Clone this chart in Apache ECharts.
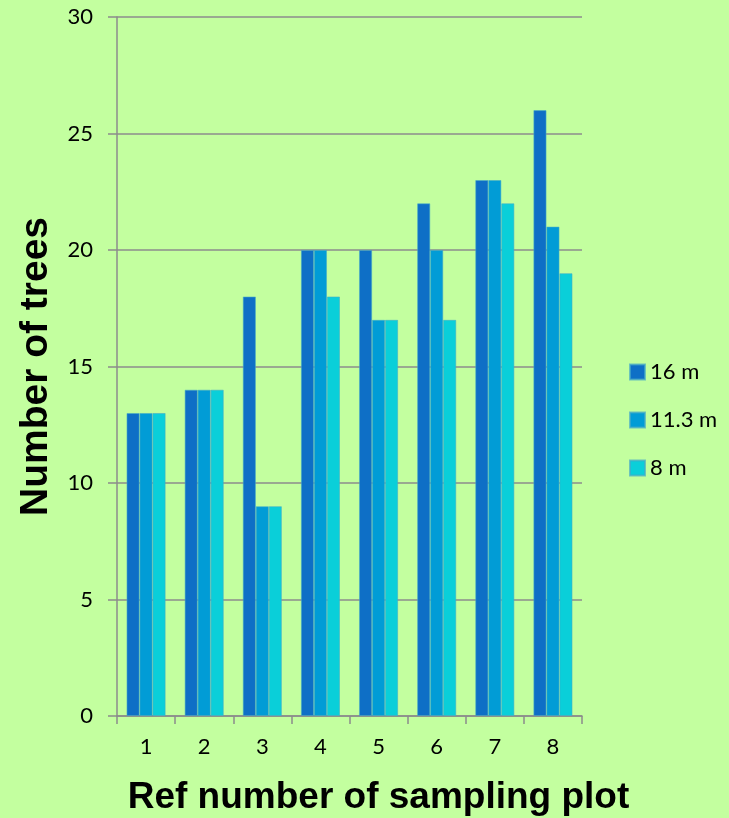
<!DOCTYPE html>
<html><head><meta charset="utf-8">
<script src="https://cdn.jsdelivr.net/npm/echarts@6/dist/echarts.min.js"></script>
<style>html,body{margin:0;padding:0;background:#c3ff9f;}#c{width:729px;height:818px;}</style>
</head><body><div id="c"></div>
<script>
const categories = ['1','2','3','4','5','6','7','8'];
const s16 = [13,14,18,20,20,22,23,26];
const s113 = [13,14,9,20,17,20,23,21];
const s8 = [13,14,9,18,17,17,22,19];
const seriesNames = ['16 m','11.3 m','8 m'];
const colors = ['#0e6fc6','#019cd6','#0acfd9'];

const chart = echarts.init(document.getElementById('c'));
const font = 'Lato, "Noto Sans", sans-serif';
const boldFont = '"Liberation Sans", Arial, sans-serif';
chart.setOption({
  backgroundColor: '#c3ff9f',
  animation: false,
  grid: {left: 117, right: 147, top: 17, bottom: 102, outerBoundsMode: 'none', containLabel: false},
  legend: {
    orient: 'vertical', left: 624, top: 356, itemGap: 26,
    itemWidth: 15, itemHeight: 15, icon: 'rect',
    textStyle: {fontSize: 22, color: '#000', fontFamily: font},
    data: seriesNames
  },
  xAxis: {
    type: 'category', data: categories,
    name: 'Ref number of sampling plot', nameLocation: 'middle', nameGap: 63,
    nameTextStyle: {fontSize: 37, fontWeight: 'bold', color: '#000', fontFamily: boldFont, padding: [0, 0, 0, 58]},
    axisLine: {lineStyle: {color: '#8c8c8c', width: 1.5}},
    axisTick: {show: true, length: 8, lineStyle: {color: '#8c8c8c', width: 1.5}},
    axisLabel: {fontSize: 22, color: '#000', margin: 20, fontFamily: font}
  },
  yAxis: {
    type: 'value', min: 0, max: 30, interval: 5,
    name: 'Number of trees', nameLocation: 'middle', nameGap: 61, nameRotate: 90,
    nameTextStyle: {fontSize: 39, fontWeight: 'bold', color: '#000', fontFamily: boldFont},
    axisLine: {show: true, lineStyle: {color: '#8c8c8c', width: 1.5}},
    axisTick: {show: true, length: 9, lineStyle: {color: '#8c8c8c', width: 1.5}},
    axisLabel: {fontSize: 22, color: '#000', margin: 24, fontFamily: font},
    splitLine: {show: true, lineStyle: {color: '#8c8c8c', width: 1.5}}
  },
  series: [s16, s113, s8].map((d, i) => ({
    name: seriesNames[i], type: 'bar', data: d,
    barGap: '0%', barCategoryGap: '33%',
    itemStyle: {color: colors[i], borderColor: 'rgba(70,170,200,0.7)', borderWidth: 0.8}
  }))
});
</script></body></html>
